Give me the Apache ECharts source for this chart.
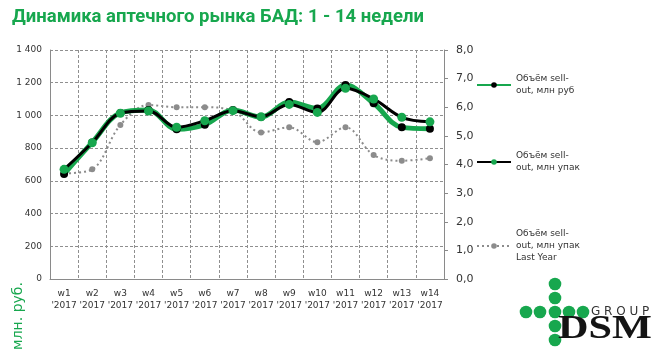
<!DOCTYPE html>
<html><head><meta charset="utf-8">
<script src="https://cdn.jsdelivr.net/npm/echarts@6/dist/echarts.min.js"></script>
<style>html,body{margin:0;padding:0;background:#fff}#c{width:666px;height:358px}</style>
</head><body><div id="c"></div>
<script>
const weeks = ['w1','w2','w3','w4','w5','w6','w7','w8','w9','w10','w11','w12','w13','w14'];
const yearLabel = "'2017";
const rubValues = [642, 835, 1015, 1033, 915, 943, 1033, 990, 1082, 1043, 1186, 1074, 927, 919];
const packValues = [3.83, 4.76, 5.79, 5.87, 5.30, 5.53, 5.88, 5.67, 6.10, 5.82, 6.66, 6.29, 5.65, 5.49];
const packLastYear = [3.69, 3.83, 5.38, 6.08, 6.00, 6.00, 5.88, 5.12, 5.30, 4.78, 5.30, 4.33, 4.13, 4.22];
const seriesNames = ['Объём sell-out, млн руб', 'Объём sell-out, млн упак', 'Объём sell-out, млн упак Last Year'];
const legendTexts = ['Объём sell-\nout, млн руб', 'Объём sell-\nout, млн упак', 'Объём sell-\nout, млн упак\nLast Year'];
const titleText = 'Динамика аптечного рынка БАД: 1 - 14 недели';
const yAxisTitle = 'млн. руб.';

const GREEN = '#17a74e';
const gridDash = {color:'#8f8f8f', type:[3,2], width:1};
const chart = echarts.init(document.getElementById('c'), null, {renderer:'canvas'});

function mkLegend(i, top) {
  const lines = legendTexts[i].split('\n').length;
  return {
    data:[seriesNames[i]], left:476, top:top, orient:'vertical',
    itemWidth:34, itemHeight:7, itemGap:0, padding:0,
    formatter: () => legendTexts[i],
    textStyle:{fontSize:9, color:'#333', lineHeight:12, fontFamily:'DejaVu Sans', padding:[(lines-1)*12,0,0,0]},
    selectedMode:false
  };
}

chart.setOption({
  animation:false,
  title:{text:titleText, left:12, top:8, padding:0, textStyle:{fontSize:18.5, fontWeight:'bold', color:GREEN, fontFamily:'Roboto'}},
  grid:{left:50, right:222, top:50, bottom:79},
  legend:[mkLegend(0,67), mkLegend(1,144), mkLegend(2,216)],
  xAxis:{type:'category', data:weeks, boundaryGap:true,
    axisLine:{lineStyle:{color:'#8a8a8a', width:1}}, axisTick:{show:false},
    axisLabel:{fontSize:9, color:'#333', margin:9, lineHeight:12, fontFamily:'DejaVu Sans', interval:0,
      formatter:(v)=> v + '\n' + yearLabel},
    splitLine:{show:true, lineStyle:gridDash}},
  yAxis:[
    {type:'value', min:0, max:1400, interval:200, position:'left',
      axisLine:{show:true, lineStyle:{color:'#8a8a8a'}}, axisTick:{show:false},
      axisLabel:{fontSize:9, color:'#333', margin:8, fontFamily:'DejaVu Sans',
        formatter:(v)=> v>=1000 ? Math.floor(v/1000)+' '+String(v%1000).padStart(3,'0') : String(v)},
      splitLine:{show:true, lineStyle:gridDash}},
    {type:'value', min:0, max:8, interval:1, position:'right',
      axisLine:{show:true, lineStyle:{color:'#8a8a8a'}}, axisTick:{show:true, length:4, lineStyle:{color:'#8a8a8a'}},
      axisLabel:{fontSize:11, color:'#333', margin:12, fontFamily:'DejaVu Sans',
        formatter:(v)=> v.toFixed(1).replace('.',',')},
      splitLine:{show:false}}
  ],
  series:[
    {name:seriesNames[0], type:'line', yAxisIndex:0, data:rubValues, smooth:0.35,
      symbol:'circle', symbolSize:8, lineStyle:{color:GREEN, width:5}, itemStyle:{color:'#000'}, z:2},
    {name:seriesNames[1], type:'line', yAxisIndex:1, data:packValues, smooth:0.35,
      symbol:'circle', symbolSize:9, lineStyle:{color:'#000', width:3}, itemStyle:{color:GREEN}, z:3},
    {name:seriesNames[2], type:'line', yAxisIndex:1, data:packLastYear, smooth:0.35,
      symbol:'circle', symbolSize:6, lineStyle:{color:'#8c8c8c', width:2, type:[2,3]}, itemStyle:{color:'#8c8c8c'}, z:1}
  ],
  graphic:[
    {type:'text', x:18, y:316, rotation:Math.PI/2,
      style:{text:yAxisTitle, fill:GREEN, fontSize:14, fontFamily:'DejaVu Sans', align:'center', verticalAlign:'middle'}},
    {type:'group', x:519, y:277, children:[
      {type:'circle', shape:{cx:36, cy:7, r:6.3}, style:{fill:GREEN}},
      {type:'circle', shape:{cx:36, cy:21, r:6.3}, style:{fill:GREEN}},
      {type:'circle', shape:{cx:7, cy:35, r:6.3}, style:{fill:GREEN}},
      {type:'circle', shape:{cx:21, cy:35, r:6.3}, style:{fill:GREEN}},
      {type:'circle', shape:{cx:36, cy:35, r:6.3}, style:{fill:GREEN}},
      {type:'circle', shape:{cx:50, cy:35, r:6.3}, style:{fill:GREEN}},
      {type:'circle', shape:{cx:64, cy:35, r:6.3}, style:{fill:GREEN}},
      {type:'circle', shape:{cx:36, cy:49, r:6.3}, style:{fill:GREEN}},
      {type:'circle', shape:{cx:36, cy:63, r:6.3}, style:{fill:GREEN}},
      {type:'text', x:72, y:35, style:{text:'G R O U P', fill:'#333', fontSize:12, fontFamily:'DejaVu Sans', verticalAlign:'middle'}},
      {type:'text', x:39, y:52, scaleX:1.28, style:{text:'DSM', fill:'#141414', fontSize:33, fontWeight:'bold', fontFamily:'Liberation Serif', verticalAlign:'middle'}}
    ]}
  ]
});
</script></body></html>
